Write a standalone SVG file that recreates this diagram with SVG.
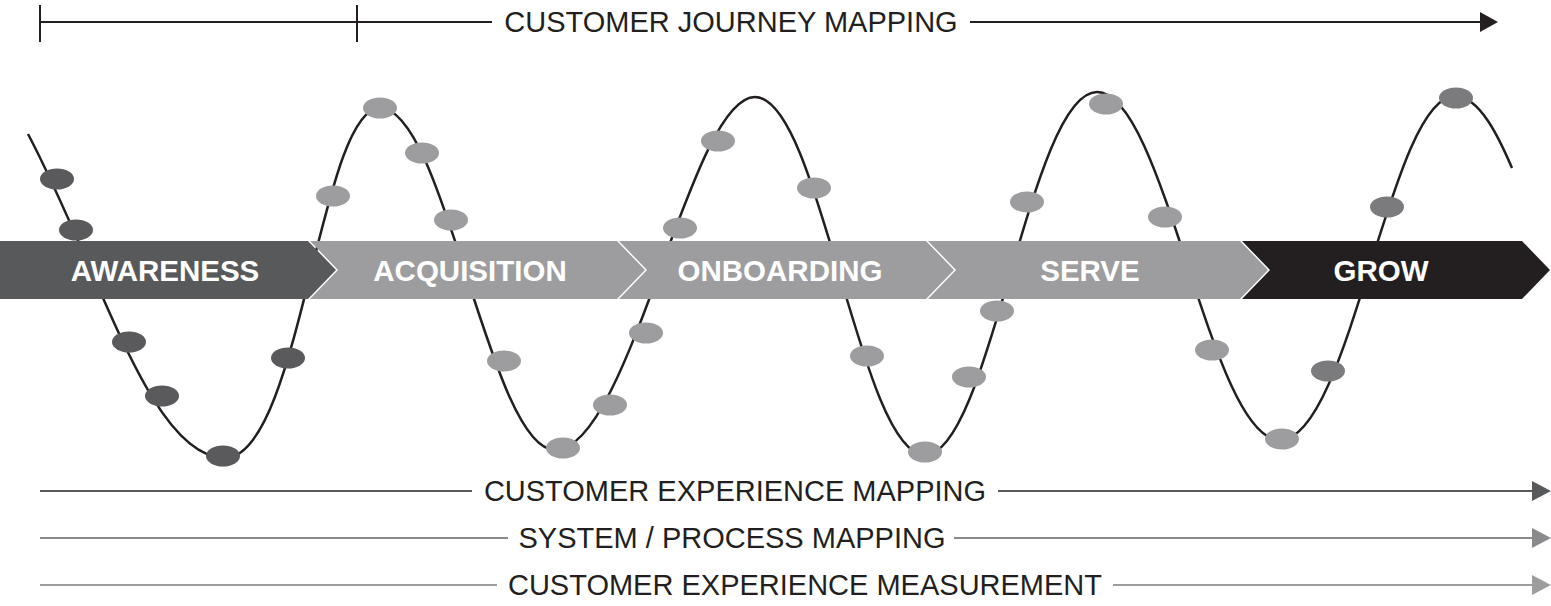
<svg xmlns="http://www.w3.org/2000/svg" width="1551" height="606" viewBox="0 0 1551 606">
<style>
.t{font-family:"Liberation Sans",Arial,sans-serif;font-size:29px;fill:#231f20;text-anchor:middle}
.b{font-family:"Liberation Sans",Arial,sans-serif;font-size:29.5px;font-weight:bold;fill:#fff;text-anchor:middle}
.d{fill:#5a5a5c}.l{fill:#9d9d9f}.g{fill:#7b7b7d}
</style>
<rect width="1551" height="606" fill="#fff"/>
<g id="connectors">
<path d="M40,22H1480M40,5V42M357,5V42" stroke="#231f20" stroke-width="2" fill="none"/>
<polygon points="1480,12 1498,22 1480,32" fill="#231f20"/>
<line x1="40" y1="491" x2="1533" y2="491" stroke="#58595b" stroke-width="2"/>
<polygon points="1532,481 1551,491 1532,501" fill="#58595b"/>
<line x1="40" y1="538" x2="1533" y2="538" stroke="#8a8a8c" stroke-width="2"/>
<polygon points="1532,528 1551,538 1532,548" fill="#8a8a8c"/>
<line x1="40" y1="585" x2="1533" y2="585" stroke="#9d9d9f" stroke-width="2"/>
<polygon points="1532,575 1551,585 1532,595" fill="#9d9d9f"/>
</g>
<rect x="492" y="4" width="478" height="36" fill="#fff"/>
<text class="t" x="731" y="32">CUSTOMER JOURNEY MAPPING</text>
<rect x="472" y="473" width="526" height="36" fill="#fff"/>
<text class="t" x="735" y="501">CUSTOMER EXPERIENCE MAPPING</text>
<rect x="508" y="520" width="446" height="36" fill="#fff"/>
<text class="t" x="732" y="548">SYSTEM / PROCESS MAPPING</text>
<rect x="497" y="567" width="616" height="36" fill="#fff"/>
<text class="t" x="805" y="595">CUSTOMER EXPERIENCE MEASUREMENT</text>
<g id="wave">
<path d="M28,134 C100,270 150,458 225,458 C300,458 320,108 380,108 C445,108 490,450 555,450 C630,450 690,97 755,97 C820,97 860,455 925,455 C990,455 1030,92 1097,92 C1165,92 1210,440 1280,440 C1350,440 1390,96 1455,96 C1480,96 1500,140 1512,168" fill="none" stroke="#231f20" stroke-width="2.5"/>
</g>
<g id="banner">
<g id="awareness"><polygon points="0,241 308,241 336,270 308,299 0,299" fill="#58595b"/><text class="b" x="165" y="281">AWARENESS</text></g>
<g id="acquisition"><polygon points="310,241 617,241 645,270 617,299 310,299 338,270" fill="#9d9d9f"/><text class="b" x="470" y="281">ACQUISITION</text></g>
<g id="onboarding"><polygon points="619,241 926,241 954,270 926,299 619,299 647,270" fill="#9d9d9f"/><text class="b" x="780" y="281">ONBOARDING</text></g>
<g id="serve"><polygon points="928,241 1240,241 1268,270 1240,299 928,299 956,270" fill="#9d9d9f"/><text class="b" x="1090" y="281">SERVE</text></g>
<g id="grow"><polygon points="1242,241 1522,241 1550,270 1522,299 1242,299 1270,270" fill="#231f20"/><text class="b" x="1381" y="281">GROW</text></g>
</g>
<g id="dots">
<ellipse class="d" cx="57" cy="179" rx="17" ry="10.5"/>
<ellipse class="d" cx="76" cy="230" rx="17" ry="10.5"/>
<ellipse class="d" cx="129" cy="342" rx="17" ry="10.5"/>
<ellipse class="d" cx="162" cy="396" rx="17" ry="10.5"/>
<ellipse class="d" cx="223" cy="456" rx="17" ry="10.5"/>
<ellipse class="d" cx="288" cy="358" rx="17" ry="10.5"/>
<ellipse class="l" cx="333" cy="196" rx="17" ry="10.5"/>
<ellipse class="l" cx="380" cy="108" rx="17" ry="10.5"/>
<ellipse class="l" cx="422" cy="153" rx="17" ry="10.5"/>
<ellipse class="l" cx="451" cy="220" rx="17" ry="10.5"/>
<ellipse class="l" cx="504" cy="361" rx="17" ry="10.5"/>
<ellipse class="l" cx="563" cy="448" rx="17" ry="10.5"/>
<ellipse class="l" cx="610" cy="405" rx="17" ry="10.5"/>
<ellipse class="l" cx="646" cy="333" rx="17" ry="10.5"/>
<ellipse class="l" cx="680" cy="228" rx="17" ry="10.5"/>
<ellipse class="l" cx="718" cy="141" rx="17" ry="10.5"/>
<ellipse class="l" cx="814" cy="188" rx="17" ry="10.5"/>
<ellipse class="l" cx="867" cy="356" rx="17" ry="10.5"/>
<ellipse class="l" cx="925" cy="452" rx="17" ry="10.5"/>
<ellipse class="l" cx="969" cy="377" rx="17" ry="10.5"/>
<ellipse class="l" cx="997" cy="311" rx="17" ry="10.5"/>
<ellipse class="l" cx="1027" cy="202" rx="17" ry="10.5"/>
<ellipse class="l" cx="1106" cy="104" rx="17" ry="10.5"/>
<ellipse class="l" cx="1165" cy="217" rx="17" ry="10.5"/>
<ellipse class="l" cx="1212" cy="350" rx="17" ry="10.5"/>
<ellipse class="l" cx="1282" cy="439" rx="17" ry="10.5"/>
<ellipse class="g" cx="1328" cy="371" rx="17" ry="10.5"/>
<ellipse class="g" cx="1387" cy="207" rx="17" ry="10.5"/>
<ellipse class="g" cx="1456" cy="98" rx="17" ry="10.5"/>
</g>
</svg>
